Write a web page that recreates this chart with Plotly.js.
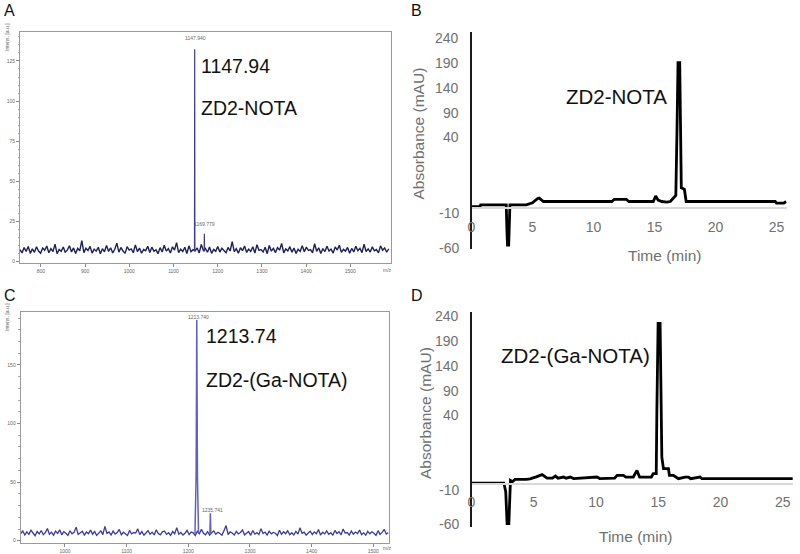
<!DOCTYPE html>
<html><head><meta charset="utf-8">
<script src="https://cdn.plot.ly/plotly-3.0.1.min.js"></script>
<style>html,body{margin:0;padding:0;background:#fff}#chart{width:800px;height:554px}</style>
</head><body><div id="chart"></div>
<script>
// ---------- Panel A: MALDI spectrum of ZD2-NOTA ----------
const mzA_start = 752.8, mzA_step = 4.66;
const noiseA = [
7.2,5.1,8.4,6.0,9.1,4.8,7.6,5.5,8.9,6.3,
4.9,8.1,6.7,9.4,5.2,7.8,5.9,10.6,4.6,7.3,
6.1,8.8,5.4,7.0,9.6,5.7,8.2,4.7,7.9,6.4,
12.8,5.3,8.0,6.6,9.2,5.0,7.5,6.2,8.6,4.5,
7.7,5.8,9.8,6.0,8.3,5.1,7.4,11.2,5.6,8.5,
6.3,4.8,9.0,6.9,7.6,5.2,10.1,5.9,8.1,4.9,
7.2,6.5,9.3,5.4,8.7,6.1,7.0,4.6,8.4,5.7,
9.9,6.2,7.8,5.0,8.9,6.8,11.5,5.3,7.4,6.0,
8.6,4.7,9.5,5.8,7.1,6.4,8.2,5.1,10.4,6.6,
7.9,5.5,8.8,4.8,7.3,6.1,9.1,5.6,8.0,6.9,
5.2,8.5,6.3,12.1,5.9,7.7,4.9,8.3,6.5,9.4,
5.4,7.5,6.0,8.9,5.0,10.2,6.7,7.2,5.7,8.6,
4.6,9.7,6.2,7.9,5.3,8.4,6.8,11.0,5.1,7.6,
6.4,9.0,5.5,8.1,4.8,7.4,6.0,9.6,5.8,8.7,
6.6,7.1,5.2,10.8,6.1,8.3,4.7,7.8,5.9,9.2,
6.3,7.5,5.0,8.8,6.9,9.9,5.4,7.3,6.2,8.5,
4.9,7.9,5.7,9.3,6.5,8.0,5.3,10.5,6.0,7.6,
5.6,8.9,6.4,7.2,5.1,9.5,6.8,8.2,5.5,7.7];
const peakA_mz = [1147.5, 1147.94, 1148.4, null, 1169.3, 1169.78, 1170.3];
const peakA_int = [6, 132.3, 6, null, 6, 17, 6];
const peakA_labels = ["1147.940", "1169.779"];

// ---------- Panel C: MALDI spectrum of ZD2-(Ga-NOTA) ----------
const mzC_start = 928.2, mzC_step = 3.33;
const noiseC = [
6.1,8.3,4.9,7.6,5.4,9.0,6.6,4.3,7.9,5.8,
8.7,5.1,6.9,10.4,5.5,7.3,4.7,8.1,6.2,9.3,
5.0,7.7,6.4,4.6,8.5,5.9,7.1,11.6,5.3,6.8,
8.0,4.8,7.4,6.0,9.1,5.6,7.9,4.5,6.7,8.4,
5.2,12.3,6.3,7.5,4.9,8.2,5.7,6.9,9.6,5.1,
7.2,6.1,4.4,8.8,5.8,7.0,6.5,10.1,5.3,7.8,
4.7,6.6,8.6,5.5,7.3,4.9,9.4,6.2,5.0,7.6,
8.3,5.4,6.8,4.6,7.9,6.0,11.2,5.6,7.1,4.8,
6.4,8.9,5.2,7.4,6.7,4.5,8.1,5.9,9.8,6.3,
5.1,7.7,4.8,6.9,8.4,5.5,7.2,6.1,4.7,8.6,
12.9,5.3,7.5,6.6,4.9,8.0,5.8,7.0,9.2,5.0,
6.5,7.8,4.6,8.7,5.6,6.9,5.2,10.3,6.2,7.4,
4.8,8.2,5.9,7.1,6.4,4.5,9.0,5.4,7.6,6.0,
8.5,5.1,6.8,4.9,7.9,5.7,11.0,6.3,7.3,4.7,
6.6,8.1,5.3,7.5,6.0,9.5,4.8,7.2,5.8,8.4,
5.5,6.9,4.6,8.8,6.2,7.7,5.0,10.0,6.5,7.0,
4.9,8.3,5.6,7.4,6.1,9.1,5.2,6.7,4.8,8.0,
5.9,7.6,6.3,4.6,8.6,5.4,7.1,9.7,5.7,6.8];
const peakC_mz = [1210.8, 1212.6, 1213.74, 1214.8, 1216.6, null, 1235.0, 1235.74, 1236.5];
const peakC_int = [6, 55, 188.3, 55, 6, null, 6, 23.4, 6];
const peakC_labels = ["1213.740", "1235.741"];

// ---------- Panel B: HPLC of ZD2-NOTA ----------
const timeB = [0, 0.7, 0.75, 2.85, 2.9, 2.95, 3.05, 3.1, 3.15, 4.5, 5.0, 5.4, 5.55, 5.9, 11.5, 11.7, 12.7, 12.9,
  14.9, 15.1, 15.3, 15.6, 16.0, 16.3, 16.5, 16.75, 16.85, 16.93, 17.07, 17.12, 17.2, 17.45, 17.6, 24.9, 25.0, 25.6, 25.8];
const absB = [-7.5, -7.5, -5, -5, -40, -64, -64, -20, -5, -5, -2, 4, 5, 0, 0, 3, 3, 0,
  0, 8, 2, 0, -1, 0, 4, 9, 108, 204, 204, 110, 20, 18, 0, 0, -2.5, -2.5, 0];

// ---------- Panel D: HPLC of ZD2-(Ga-NOTA) ----------
const timeD = [0, 2.6, 2.75, 2.86, 3.0, 3.13, 3.3, 3.5, 4.4, 4.7, 5.2, 5.67, 6.07, 6.5, 6.74, 6.95, 7.4, 7.6, 7.94, 8.2,
  10.08, 10.3, 11.5, 11.7, 12.2, 12.4, 13.0, 13.29, 13.5, 14.45, 14.6, 14.84, 14.89, 14.99, 15.15, 15.29, 15.42, 15.82,
  15.9, 16.22, 16.62, 17.16, 17.43, 17.6, 18.36, 18.5, 25.8];
const absD = [-6.2, -6.2, -19, -66, -66, -2.2, -4, -0.7, -0.7, 0, 3, 6.2, 1.2, 1, 4.1, 1, 2.7, 1, 2.7, 0.5,
  2.7, 0.5, 1, 5.2, 5.2, 2.7, 2.7, 12.5, 2.7, 2.7, 7.7, 7.7, 98.7, 229, 229, 32, 15, 15,
  5.2, 5.2, 0.3, 2.7, 2.7, 0.3, 2.7, 0.3, 0.3];

const absTickText = ["240", "190", "140", "90", "40", "-10", "-60"];
const timeTicks = [0, 5, 10, 15, 20, 25];
const msTicksA = [0, 25, 50, 75, 100, 125];
const msTicksC = [0, 50, 100, 150];

// ---------- build ----------
const W = 800, H = 554;
const px = p => p / W, py = p => 1 - p / H;
const grid = (s, d, n) => { const a = []; for (let i = 0; i < n; i++) a.push(s + i * d); return a; };

const traces = [
  {x: grid(mzA_start, mzA_step, noiseA.length), y: noiseA, xaxis: 'x', yaxis: 'y', mode: 'lines',
   line: {color: '#1e1e5c', width: 1.4}},
  {x: peakA_mz, y: peakA_int, xaxis: 'x', yaxis: 'y', mode: 'lines', connectgaps: false,
   line: {color: '#3c3c8c', width: 1.2}},
  {x: timeB, y: absB, xaxis: 'x2', yaxis: 'y2', mode: 'lines', line: {color: '#000', width: 2.8}},
  {x: grid(mzC_start, mzC_step, noiseC.length), y: noiseC, xaxis: 'x3', yaxis: 'y3', mode: 'lines',
   line: {color: '#3a3aa0', width: 1.3}},
  {x: peakC_mz, y: peakC_int, xaxis: 'x3', yaxis: 'y3', mode: 'lines', connectgaps: false,
   line: {color: '#6060c4', width: 1.5}},
  {x: timeD, y: absD, xaxis: 'x4', yaxis: 'y4', mode: 'lines', line: {color: '#000', width: 2.8}}
];

const FONT = 'Liberation Sans, Arial, sans-serif';
const tiny = {family: FONT, size: 5, color: '#666'};
const msAxis = (extra) => Object.assign({
  showline: true, mirror: true, linecolor: '#9a9a9a', linewidth: 1, showgrid: false, zeroline: false,
  ticks: 'outside', ticklen: 3, tickcolor: '#888', tickfont: tiny, fixedrange: true
}, extra);
const hplcTick = {family: FONT, size: 14, color: '#707070'};

// positions (in the axis' own units) where the irregularly spaced absorbance labels sit
const tickPosB = [240, 203, 167.1, 130.4, 95.2, -17.3, -68.7];
const tickPosD = [240, 203.1, 166.2, 129.2, 93.8, -16, -67.2];

const layout = {
  width: W, height: H, margin: {l: 0, r: 0, t: 0, b: 0}, showlegend: false,
  paper_bgcolor: '#fff', plot_bgcolor: 'rgba(0,0,0,0)', hovermode: false,
  xaxis: msAxis({domain: [px(20), px(390.7)], range: [752.8, 1591.3], anchor: 'y', tick0: 800, dtick: 100}),
  yaxis: msAxis({domain: [py(263.3), py(31.7)], range: [-1.4, 143.3], anchor: 'x', tickmode: 'array', tickvals: msTicksA,
    minor: {ticks: 'outside', ticklen: 1.5, dtick: 5, tickcolor: '#aaa'}}),
  xaxis3: msAxis({domain: [px(20.7), px(389.3)], range: [928.2, 1525.9], anchor: 'y3', tick0: 1000, dtick: 100}),
  yaxis3: msAxis({domain: [py(543.3), py(312.3)], range: [-2.2, 194.9], anchor: 'x3', tickmode: 'array', tickvals: msTicksC,
    minor: {ticks: 'outside', ticklen: 1.5, dtick: 10, tickcolor: '#aaa'}}),
  xaxis2: {domain: [px(471.5), px(786.7)], range: [0, 25.84], anchor: 'free', position: py(207.7),
    showline: true, linecolor: '#d9d9d9', linewidth: 2, showgrid: false, zeroline: false, ticks: '',
    tickmode: 'array', tickvals: timeTicks, tickfont: hplcTick, ticklabelstandoff: 6, fixedrange: true},
  yaxis2: {domain: [py(248.5), py(32)], range: [-69, 248.9], anchor: 'x2',
    showline: true, linecolor: '#1a1a1a', linewidth: 1.6, showgrid: false, zeroline: false, ticks: '',
    tickmode: 'array', tickvals: tickPosB, showticklabels: false, fixedrange: true},
  xaxis4: {domain: [px(471.5), px(793.3)], range: [0, 25.85], anchor: 'free', position: py(483.5),
    showline: true, linecolor: '#d9d9d9', linewidth: 2, showgrid: false, zeroline: false, ticks: '',
    tickmode: 'array', tickvals: timeTicks, tickfont: hplcTick, ticklabelstandoff: 6, fixedrange: true},
  yaxis4: {domain: [py(526.5), py(311.7)], range: [-70.2, 246.4], anchor: 'x4',
    showline: true, linecolor: '#1a1a1a', linewidth: 1.6, showgrid: false, zeroline: false, ticks: '',
    tickmode: 'array', tickvals: tickPosD, showticklabels: false, fixedrange: true},
  annotations: []
};

const ann = (text, x, y, size, opts) => Object.assign({
  text, x: px(x), y: py(y), xref: 'paper', yref: 'paper', showarrow: false,
  xanchor: 'center', yanchor: 'middle', font: {family: FONT, size, color: '#111'}
}, opts || {});

const A = layout.annotations;
A.push(ann('A', 9, 11, 16), ann('B', 416.5, 10, 16), ann('C', 9.5, 295, 16), ann('D', 417, 295, 16));
A.push(ann('1147.94', 199, 65.7, 19.5, {xanchor: 'left'}));
A.push(ann('ZD2-NOTA', 199, 108.3, 19.5, {xanchor: 'left'}));
A.push(ann(peakA_labels[0], 195, 37.7, 4.5, {font: tiny}));
A.push(ann(peakA_labels[1], 205, 224, 4.5, {font: tiny}));
A.push(ann('Intens. [a.u.]', 7, 37, 4.5, {textangle: -90, font: tiny}));
A.push(ann('m/z', 387, 270, 4.5, {font: tiny}));
A.push(ann('1213.74', 204, 335.7, 19.5, {xanchor: 'left'}));
A.push(ann('ZD2-(Ga-NOTA)', 204, 380, 19.5, {xanchor: 'left'}));
A.push(ann(peakC_labels[0], 198.7, 317.3, 4.5, {font: tiny}));
A.push(ann(peakC_labels[1], 212, 510, 4.5, {font: tiny}));
A.push(ann('Intens. [a.u.]', 7, 317, 4.5, {textangle: -90, font: tiny}));
A.push(ann('m/z', 387, 548, 4.5, {font: tiny}));
A.push(ann('ZD2-NOTA', 616.7, 96.7, 20.5));
A.push(ann('Absorbance (mAU)', 418.5, 133, 15.5, {textangle: -90, font: {family: FONT, size: 15.5, color: '#707070'}}));
A.push(ann('Time (min)', 664, 255, 15.5, {font: {family: FONT, size: 15.5, color: '#707070'}}));
A.push(ann('ZD2-(Ga-NOTA)', 575, 355, 20.5));
A.push(ann('Absorbance (mAU)', 425, 413, 15.5, {textangle: -90, font: {family: FONT, size: 15.5, color: '#707070'}}));
A.push(ann('Time (min)', 635, 536.7, 15.5, {font: {family: FONT, size: 15.5, color: '#707070'}}));

// absorbance tick labels, placed through the y2 / y4 axes
absTickText.forEach((t, i) => {
  A.push({text: t, x: px(461), xref: 'paper', y: tickPosB[i], yref: 'y2', showarrow: false,
    xanchor: 'right', yanchor: 'middle', font: hplcTick});
  A.push({text: t, x: px(461), xref: 'paper', y: tickPosD[i], yref: 'y4', showarrow: false,
    xanchor: 'right', yanchor: 'middle', font: hplcTick});
});

Plotly.newPlot('chart', traces, layout, {staticPlot: true, displayModeBar: false});
</script></body></html>
